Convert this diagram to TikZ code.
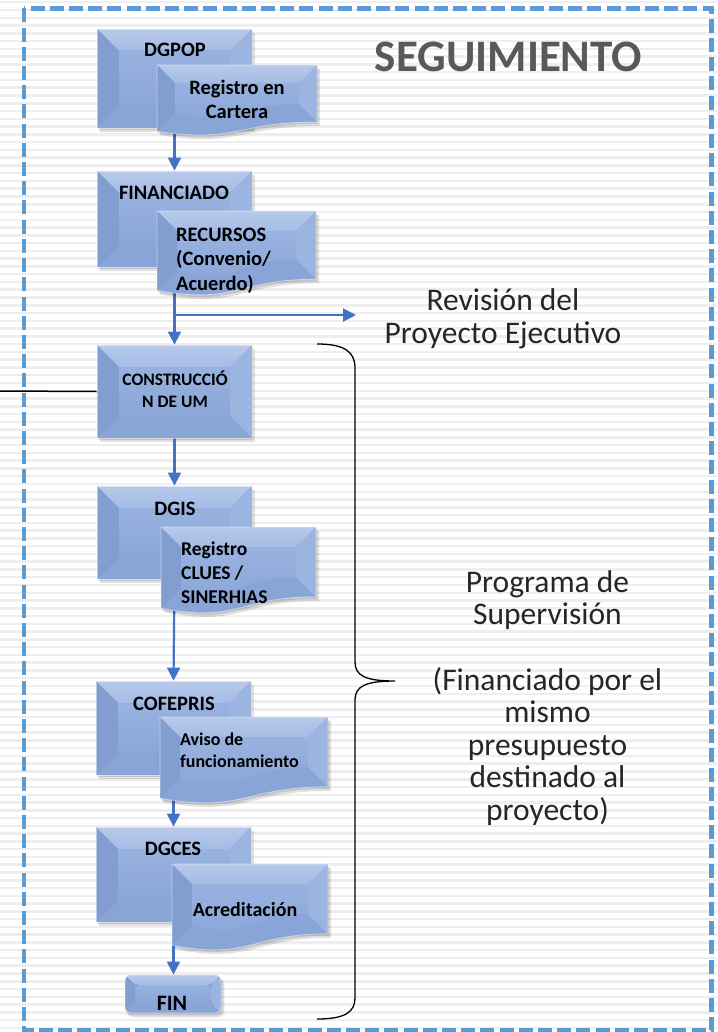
\documentclass[tikz,border=0pt]{standalone}
\usepackage{fontspec}
\setmainfont{Carlito}
\usetikzlibrary{arrows.meta,calc}
\definecolor{lineblue}{HTML}{4472C4}
\definecolor{dashblue}{HTML}{5B9BD5}
\definecolor{faceC}{HTML}{8EAADB}
\definecolor{faceTop}{HTML}{98B2E0}
\definecolor{faceBot}{HTML}{8AA6D8}
\definecolor{topC}{HTML}{A5BCE5}
\definecolor{leftC}{HTML}{829ED0}
\definecolor{rightC}{HTML}{9CB4E0}
\definecolor{botC}{HTML}{89A5D7}
\definecolor{stripeC}{HTML}{EEEEEE}
\definecolor{headC}{HTML}{595959}
\definecolor{txtC}{HTML}{262626}
\pgfdeclarelayer{bg}
\pgfdeclarelayer{links}
\pgfsetlayers{bg,links,main}
\newcommand{\ml}[2]{\begin{tabular}[t]{@{}#1@{}}#2\end{tabular}}
\newcommand{\docshape}[5]{%
  \pgfmathsetmacro{\yr}{#2+0.802*#4}%
  \pgfmathsetmacro{\yl}{#2+0.934*#4}%
  \pgfmathsetmacro{\yc}{#2+1.107*#4}%
  \pgfmathsetmacro{\xm}{(#1+#3)/2}%
  \pgfmathsetmacro{\ya}{#2+#5}%
  \pgfmathsetmacro{\xa}{#1+#5}%
  \pgfmathsetmacro{\xb}{#3-#5}%
  \begin{scope}[shift={(1,2)}]
    \fill[black,opacity=0.12] (#1,#2) -- (#3,#2) -- (#3,\yr) .. controls (\xm,\yr) and (\xm,\yc) .. (#1,\yl) -- cycle;
  \end{scope}
  \begin{scope}[shift={(3,4)}]
    \fill[black,opacity=0.12] (#1,#2) -- (#3,#2) -- (#3,\yr) .. controls (\xm,\yr) and (\xm,\yc) .. (#1,\yl) -- cycle;
  \end{scope}
  \begin{scope}
    \clip (#1,#2) -- (#3,#2) -- (#3,\yr) .. controls (\xm,\yr) and (\xm,\yc) .. (#1,\yl) -- cycle;
    \fill[botC] (#1,#2) rectangle (#3,\yc);
    \shade[top color=topC!80!white, bottom color=topC] (#1,#2) -- (#3,#2) -- (\xb,\ya) -- (\xa,\ya) -- cycle;
    \fill[leftC] (#1,#2) -- (\xa,\ya) -- (\xa,\yl-#5) -- (#1,\yl) -- cycle;
    \fill[rightC] (#3,#2) -- (#3,\yr) -- (\xb,\yr-#5) -- (\xb,\ya) -- cycle;
    \shade[top color=faceTop, bottom color=faceBot] (\xa,\ya) -- (\xb,\ya) -- (\xb,\yr-#5) .. controls (\xm,\yr-#5) and (\xm,\yc-#5) .. (\xa,\yl-#5) -- cycle;
  \end{scope}
  \draw[white, opacity=0.45, line width=0.8pt] (#1,#2) -- (#3,#2) -- (#3,\yr) .. controls (\xm,\yr) and (\xm,\yc) .. (#1,\yl) -- cycle;
}
\newcommand{\boxshadow}[2][0pt]{%
  \fill[black,opacity=0.12,rounded corners=#1] ([shift={(1pt,-2pt)}]#2.north west) rectangle ([shift={(1pt,-2pt)}]#2.south east);
  \fill[black,opacity=0.12,rounded corners=#1] ([shift={(3pt,-4pt)}]#2.north west) rectangle ([shift={(3pt,-4pt)}]#2.south east);
}
\tikzset{
  bevel/.style={draw=white, draw opacity=0.45, line width=0.8pt, path picture={
    \path (path picture bounding box.north west) coordinate (pNW)
          (path picture bounding box.north east) coordinate (pNE)
          (path picture bounding box.south west) coordinate (pSW)
          (path picture bounding box.south east) coordinate (pSE);
    \fill[botC] (pSW) rectangle (pNE);
    \shade[top color=topC!80!white, bottom color=topC] (pNW) -- (pNE) -- ([shift={(-#1,-#1)}]pNE) -- ([shift={(#1,-#1)}]pNW) -- cycle;
    \fill[leftC] (pNW) -- ([shift={(#1,-#1)}]pNW) -- ([shift={(#1,#1)}]pSW) -- (pSW) -- cycle;
    \fill[rightC] (pNE) -- ([shift={(-#1,-#1)}]pNE) -- ([shift={(-#1,#1)}]pSE) -- (pSE) -- cycle;
    \shade[top color=faceTop, bottom color=faceBot] ([shift={(#1,-#1)}]pNW) rectangle ([shift={(-#1,#1)}]pSE);
  }},
  backbox/.style={minimum width=155pt, minimum height=#1, inner sep=0pt, bevel=22pt},
  lbl/.style={inner sep=0pt, text=black, font=\fontsize{20.5}{24}\selectfont\bfseries},
  rtxt/.style={inner sep=0pt, text=txtC},
  arr/.style={draw=lineblue, line width=2.2pt, -{Triangle[width=13pt,length=13pt]}},
}
\begin{document}
\begin{tikzpicture}[x=1pt,y=-1pt]
\useasboundingbox (0,0) rectangle (717,1032);
\begin{pgfonlayer}{bg}
  \fill[white] (0,0) rectangle (717,1032);
  \foreach \yy in {1,8.77,...,1032} \fill[stripeC] (0,\yy) rectangle (717,\yy+2.5);
\end{pgfonlayer}

% title
\node[inner sep=0pt, text=headC, font=\fontsize{45}{45}\selectfont\bfseries, anchor=base] (title) at (508.5,72) {SEGUIMIENTO};

% DGPOP
\node[backbox=99pt] (dgpop) at (174.5,78.5) {};
\node[lbl, anchor=base] (t1) at (175,57) {DGPOP};
\docshape{157}{65}{317}{71}{18}
\node[lbl, anchor=base] (t2) at (237,95) {\ml{c}{Registro en\\Cartera}};

% FINANCIADO
\node[backbox=96pt] (fin) at (174.5,219) {};
\node[lbl, anchor=base] (t3) at (174,200) {FINANCIADO};
\docshape{157}{211}{316}{85}{20}
\node[lbl, font=\fontsize{20.5}{24.5}\selectfont\bfseries, anchor=base west] (t4) at (176,241) {\ml{l}{RECURSOS\\(Convenio/\\Acuerdo)}};

% CONSTRUCCION
\node[backbox=93pt] (cons) at (174.5,391.5) {};
\node[lbl, font=\fontsize{17.5}{22}\selectfont\bfseries, anchor=base] (t5) at (175,385) {\ml{c}{CONSTRUCCIÓ\\N DE UM}};

% DGIS
\node[backbox=93pt] (dgis) at (174.5,532.5) {};
\node[lbl, anchor=base] (t6) at (175,515) {DGIS};
\docshape{161}{527}{316}{87}{20}
\node[lbl, font=\fontsize{19.5}{24}\selectfont\bfseries, anchor=base west] (t7) at (181,555) {\ml{l}{Registro\\CLUES /\\SINERHIAS}};

% COFEPRIS
\node[backbox=94pt] (cof) at (173.5,728) {};
\node[lbl, anchor=base] (t8) at (174,710) {COFEPRIS};
\docshape{160}{717}{328}{87}{20}
\node[lbl, font=\fontsize{18}{22}\selectfont\bfseries, anchor=base west] (t9) at (180,745) {\ml{l}{Aviso de\\funcionamiento}};

% DGCES
\node[backbox=95pt] (dgces) at (173.5,874.5) {};
\node[lbl, anchor=base] (t10) at (173,855) {DGCES};
\docshape{172}{864}{328}{87}{20}
\node[lbl, font=\fontsize{20}{24}\selectfont\bfseries, anchor=base] (t11) at (245,916) {Acreditación};

% FIN
\node[minimum width=96pt, minimum height=38pt, inner sep=0pt, rounded corners=6pt, bevel=10pt] (finbox) at (173,994) {};
\node[lbl, font=\fontsize{22}{24}\selectfont\bfseries, anchor=base] (t12) at (172,1010) {FIN};

% right texts
\node[rtxt, font=\fontsize{31.5}{33}\selectfont, anchor=base] (rev) at (503,310) {\ml{c}{Revisión del\\Proyecto Ejecutivo}};
\node[rtxt, font=\fontsize{31.5}{32.6}\selectfont, anchor=base] (prog) at (547.5,592) {\ml{c}{Programa de\\Supervisión\\ \\(Financiado por el\\mismo\\presupuesto\\destinado al\\proyecto)}};

% brace
\draw[line width=1.3pt] (317,344) .. controls (345,344) and (355,352) .. (355,368) -- (355,662) .. controls (355,676) and (366,681) .. (395,681) .. controls (366,681) and (355,686) .. (355,700) -- (355,998) .. controls (355,1012) and (345,1019) .. (317,1019);

% frame
\draw[dashblue, line width=4.5pt, dash pattern=on 14pt off 5.2pt] (24,8.5) rectangle (711.5,1030.5);

\coordinate (revtip) at (356,315);
\coordinate (leftend) at (0,391);

\begin{pgfonlayer}{links}
  \boxshadow{dgpop}
  \boxshadow{fin}
  \boxshadow{cons}
  \boxshadow{dgis}
  \boxshadow{cof}
  \boxshadow{dgces}
  \boxshadow[6pt]{finbox}
  \draw[arr] (dgpop.south) -- (fin.north);
  \draw[arr] (fin.south) -- (cons.north);
  \draw[arr] (fin.south |- revtip) -- (revtip);
  \draw[black, line width=1.5pt] (leftend) -- (cons.west);
  \draw[arr] (cons.south) -- (dgis.north);
  \draw[arr] (dgis.south) -- (cof.north);
  \draw[arr] (cof.south) -- (dgces.north);
  \draw[arr] (dgces.south) -- (dgces.south |- finbox.north);
\end{pgfonlayer}
\end{tikzpicture}
\end{document}
